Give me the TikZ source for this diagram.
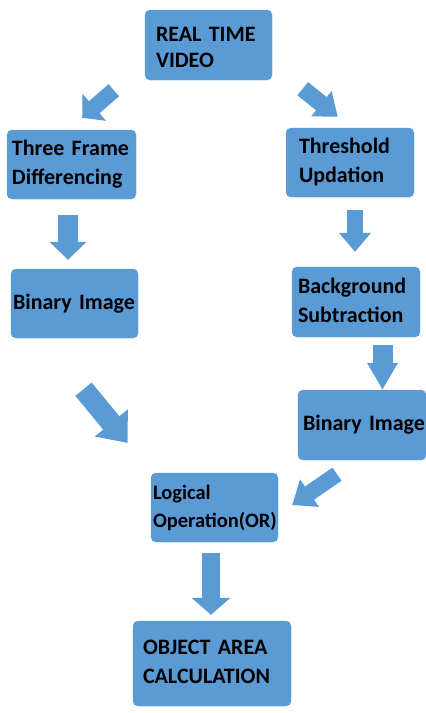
\documentclass[tikz,border=0pt]{standalone}
\usepackage{fontspec}
\setmainfont{Carlito}
\usetikzlibrary{arrows.meta,calc}
\definecolor{boxblue}{HTML}{5B9BD5}
% left-aligned block of lines with a given left padding
\newcommand\padlines[2]{\begin{tabular}{@{\hspace{#1}}l@{}}#2\end{tabular}}
\begin{document}
\begin{tikzpicture}[x=1pt,y=-1pt,
  stage/.style={fill=boxblue, draw=boxblue, rounded corners=5pt,
    inner xsep=0pt, inner ysep=0pt, align=left, text=black,
    font=\bfseries\fontsize{22}{29}\selectfont},
  blockarrow/.style n args={3}{draw=boxblue, line width=#1,
    -{Triangle[width=#2, length=#3]}}
]
\useasboundingbox (0,0) rectangle (426,713);

% process stages
\node[stage, text width=127pt, minimum height=70pt,
      font=\bfseries\fontsize{22}{26}\selectfont] (rtv) at (208.5,45)
  {\raisebox{-4pt}[\height][\depth]{\padlines{11pt}{REAL TIME\\VIDEO}}};
\node[stage, text width=129pt, minimum height=69pt] (tfd) at (71.5,164.5)
  {\padlines{5pt}{Three Frame\\Differencing}};
\node[stage, text width=128pt, minimum height=69pt] (tu) at (350,162.5)
  {\padlines{13pt}{Threshold\\Updation}};
\node[stage, text width=127pt, minimum height=69pt] (lbin) at (74.5,303.5)
  {\padlines{2pt}{Binary Image}};
\node[stage, text width=128pt, minimum height=70pt] (bs) at (356,302)
  {\padlines{6pt}{Background\\Subtraction}};
\node[stage, text width=128pt, minimum height=70pt] (rbin) at (362,425)
  {\padlines{5pt}{Binary Image}};
\node[stage, text width=127pt, minimum height=69pt,
      font=\bfseries\fontsize{20.5}{28}\selectfont] (lo) at (214.5,507.5)
  {\padlines{2pt}{Logical\\Operation(OR)}};
\node[stage, text width=158pt, minimum height=85pt] (oa) at (212,663.5)
  {\padlines{10pt}{OBJECT AREA\\CALCULATION}};

% block arrows between stages
\draw[blockarrow={16pt}{35pt}{16pt}]
  ([xshift=-31pt,yshift=-10pt]rtv.south west) -- ([xshift=-54pt,yshift=12pt]tfd.north east);
\draw[blockarrow={17pt}{31pt}{21pt}]
  ([xshift=30.5pt,yshift=-8.5pt]rtv.south east) -- ([xshift=52pt,yshift=11pt]tu.north west);
\draw[blockarrow={20pt}{36pt}{18pt}]
  ([xshift=-3.5pt,yshift=-16pt]tfd.south) -- ([xshift=-6.5pt,yshift=9pt]lbin.north);
\draw[blockarrow={16pt}{31pt}{19pt}]
  ([xshift=5pt,yshift=-13pt]tu.south) -- ([xshift=-1pt,yshift=15pt]bs.north);
\draw[blockarrow={20pt}{29pt}{27pt}]
  ([xshift=26.5pt,yshift=-8pt]bs.south) -- ([xshift=20.5pt]rbin.north);
\draw[blockarrow={21pt}{41pt}{26pt}]
  ([xshift=9pt,yshift=-51pt]lbin.south) -- ([xshift=-23pt,yshift=64.5pt]lo.west);
\draw[blockarrow={16pt}{32pt}{21pt}]
  ([xshift=-25pt,yshift=-14pt]rbin.south) -- ([xshift=14pt,yshift=2.5pt]lo.east);
\draw[blockarrow={18pt}{38pt}{17pt}]
  ([xshift=-3.5pt,yshift=-11pt]lo.south) -- ([xshift=-1pt,yshift=6pt]oa.north);
\end{tikzpicture}
\end{document}
